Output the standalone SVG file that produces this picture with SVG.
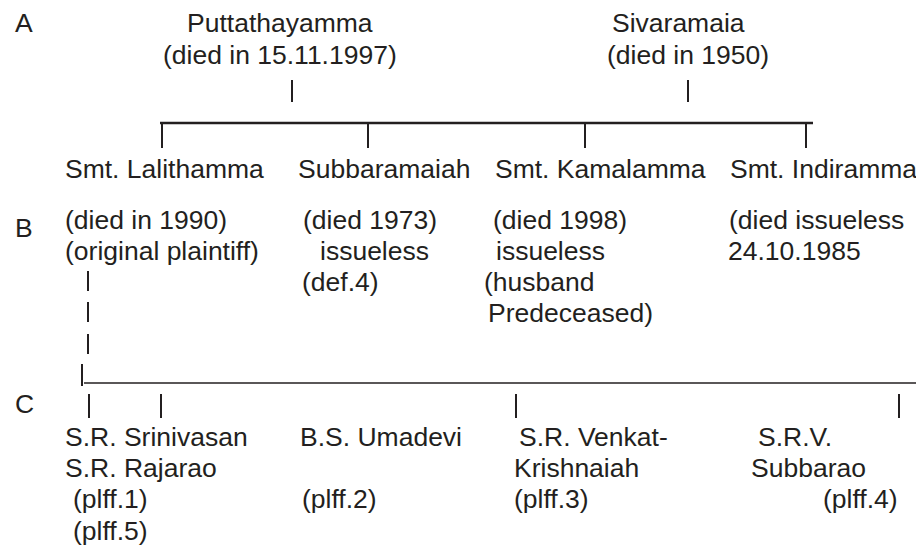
<svg xmlns="http://www.w3.org/2000/svg" width="916" height="552" viewBox="0 0 916 552">
<style>
text { font-family: "Liberation Sans", Arial, sans-serif; font-size: 26.5px; fill: #231f20; }
.ln { stroke: #231f20; stroke-width: 2; fill: none; }
.thick { stroke: #231f20; stroke-width: 2.5; fill: none; }
.thin { stroke: #231f20; stroke-width: 1.6; fill: none; }
</style>
<rect width="916" height="552" fill="#ffffff"/>
<g id="labels">
<text x="15" y="32">A</text>
<text x="15" y="237">B</text>
<text x="15" y="413">C</text>
</g>
<g id="puttathayamma">
<text x="187" y="32">Puttathayamma</text>
<text x="163" y="64">(died in 15.11.1997)</text>
</g>
<g id="sivaramaia">
<text x="612" y="32">Sivaramaia</text>
<text x="607" y="64">(died in 1950)</text>
</g>
<g id="lalithamma">
<text x="65" y="178">Smt. Lalithamma</text>
<text x="65" y="229">(died in 1990)</text>
<text x="65" y="260">(original plaintiff)</text>
</g>
<g id="subbaramaiah">
<text x="298" y="178">Subbaramaiah</text>
<text x="303" y="229">(died 1973)</text>
<text x="320" y="260">issueless</text>
<text x="302" y="291">(def.4)</text>
</g>
<g id="kamalamma">
<text x="495" y="178">Smt. Kamalamma</text>
<text x="493" y="229">(died 1998)</text>
<text x="496" y="260">issueless</text>
<text x="484" y="291">(husband</text>
<text x="488" y="322">Predeceased)</text>
</g>
<g id="indiramma">
<text x="730" y="178">Smt. Indiramma</text>
<text x="729" y="229">(died issueless</text>
<text x="728" y="260">24.10.1985</text>
</g>
<g id="srinivasan-rajarao">
<text x="65" y="446">S.R. Srinivasan</text>
<text x="65" y="477">S.R. Rajarao</text>
<text x="73" y="508">(plff.1)</text>
<text x="73" y="540">(plff.5)</text>
</g>
<g id="umadevi">
<text x="300" y="446">B.S. Umadevi</text>
<text x="302" y="508">(plff.2)</text>
</g>
<g id="venkatkrishnaiah">
<text x="519" y="446">S.R. Venkat-</text>
<text x="514" y="477">Krishnaiah</text>
<text x="514" y="508">(plff.3)</text>
</g>
<g id="subbarao">
<text x="758" y="446">S.R.V.</text>
<text x="751" y="477">Subbarao</text>
<text x="823" y="508">(plff.4)</text>
</g>
<g id="connectors">
<line class="ln" x1="292" y1="80" x2="292" y2="102"/>
<line class="ln" x1="688" y1="80" x2="688" y2="102"/>
<line class="thick" x1="160" y1="123" x2="813" y2="123"/>
<line class="ln" x1="162" y1="123" x2="162" y2="148"/>
<line class="ln" x1="368" y1="123" x2="368" y2="148"/>
<line class="ln" x1="585" y1="123" x2="585" y2="148"/>
<line class="ln" x1="806" y1="123" x2="806" y2="148"/>
<line class="ln" x1="88" y1="271" x2="88" y2="291"/>
<line class="ln" x1="88" y1="302" x2="88" y2="322"/>
<line class="ln" x1="88" y1="334" x2="88" y2="354"/>
<line class="ln" x1="82" y1="364" x2="82" y2="386"/>
<line class="thin" x1="84" y1="383" x2="916" y2="383"/>
<line class="ln" x1="89" y1="394" x2="89" y2="418"/>
<line class="ln" x1="161" y1="394" x2="161" y2="418"/>
<line class="ln" x1="516" y1="394" x2="516" y2="418"/>
<line class="ln" x1="899" y1="394" x2="899" y2="418"/>
</g>
</svg>
